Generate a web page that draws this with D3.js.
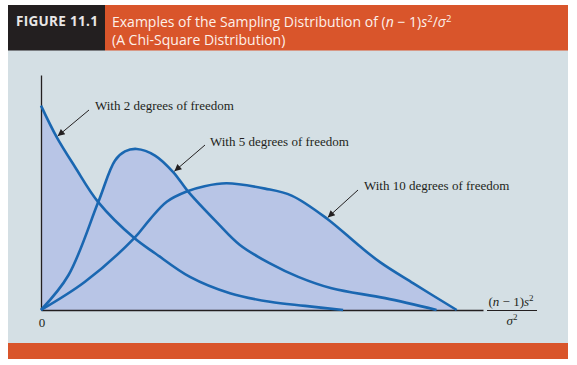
<!DOCTYPE html>
<html>
<head>
<meta charset="utf-8">
<script src="https://cdn.jsdelivr.net/npm/d3@7"></script>
<style>
  body { margin: 0; background: #ffffff; }
</style>
</head>
<body>
<div id="chart"></div>
<script>
// Values (x in chi-square units, y in density units)
var df2X = [0, 0.71, 1.54, 2.59, 4.22, 5.16, 6.74, 8.55, 10.36, 11.95, 13.67];
var df2Y = [0.5, 0.423, 0.35, 0.264, 0.176, 0.139, 0.081, 0.041, 0.020, 0.010, 0];

var df5X = [0, 1.24, 2.59, 3.35, 3.80, 4.33, 5.16, 5.99, 6.67, 7.95, 9.0, 10.36, 11.64, 13.15, 15.57, 17.9];
var df5Y = [0, 0.085, 0.264, 0.366, 0.388, 0.394, 0.378, 0.337, 0.289, 0.215, 0.159, 0.114, 0.081, 0.053, 0.029, 0];

var df10X = [0, 1.99, 4.22, 4.93, 5.69, 6.59, 7.40, 8.40, 10.14, 11.34, 12.93, 14.36, 15.34, 16.85, 18.81];
var df10Y = [0, 0.069, 0.176, 0.222, 0.265, 0.290, 0.303, 0.310, 0.297, 0.280, 0.224, 0.159, 0.117, 0.065, 0];

var seriesNames = ["With 2 degrees of freedom", "With 5 degrees of freedom", "With 10 degrees of freedom"];
var xTickLabels = ["0"];

const width = 577;
const height = 365;

const svg = d3
	.select("#chart")
	.append("svg")
	.attr("width", width)
	.attr("height", height);

// Panel + header + bottom strip
svg.append("rect").attr("x", 8).attr("y", 50).attr("width", 560).attr("height", 293).attr("fill", "#d4dfe4");
svg.append("rect").attr("x", 8).attr("y", 5).attr("width", 97).attr("height", 45.5).attr("fill", "#231f20");
svg.append("rect").attr("x", 105).attr("y", 5).attr("width", 463).attr("height", 45.5).attr("fill", "#d9552b");
svg.append("rect").attr("x", 8).attr("y", 343).attr("width", 560).attr("height", 16).attr("fill", "#d9552b");

svg.append("text")
	.attr("x", 16)
	.attr("y", 26)
	.attr("fill", "#e8e6e6")
	.style("font-family", "'Open Sans', sans-serif")
	.style("font-weight", "bold")
	.style("font-size", "13.5px")
	.style("letter-spacing", "0.3px")
	.text("FIGURE 11.1");

const title = svg.append("text")
	.attr("x", 112)
	.attr("y", 27)
	.attr("fill", "#fdf0ea")
	.style("font-family", "'Open Sans', sans-serif")
	.style("font-size", "14px");
title.append("tspan").text("Examples of the Sampling Distribution of (");
title.append("tspan").style("font-style", "italic").text("n");
title.append("tspan").text(" \u2212 1)");
title.append("tspan").style("font-style", "italic").text("s");
title.append("tspan").attr("dy", -5).style("font-size", "9.5px").text("2");
title.append("tspan").attr("dy", 5).text("/");
title.append("tspan").style("font-style", "italic").text("\u03c3");
title.append("tspan").attr("dy", -5).style("font-size", "9.5px").text("2");

svg.append("text")
	.attr("x", 112)
	.attr("y", 45)
	.attr("fill", "#fdf0ea")
	.style("font-family", "'Open Sans', sans-serif")
	.style("font-size", "14px")
	.text("(A Chi-Square Distribution)");

// Scales
const xScale = d3.scaleLinear().domain([0, 20]).range([41, 483]);
const yScale = d3.scaleLinear().domain([0, 0.575]).range([310, 75]);

const series = [
	d3.zip(df2X, df2Y),
	d3.zip(df5X, df5Y),
	d3.zip(df10X, df10Y)
];

const area = d3.area()
	.x(d => xScale(d[0]))
	.y0(yScale(0))
	.y1(d => yScale(d[1]))
	.curve(d3.curveCatmullRom.alpha(0.5));

const line = d3.line()
	.x(d => xScale(d[0]))
	.y(d => yScale(d[1]))
	.curve(d3.curveCatmullRom.alpha(0.5));

// Shaded areas first, so the union looks like one fill
svg.selectAll(".fill")
	.data(series)
	.enter()
	.append("path")
	.attr("class", "fill")
	.attr("d", area)
	.attr("fill", "#b8c5e6");

// Axes (no ticks)
svg.append("g")
	.attr("transform", `translate(0, ${yScale(0)})`)
	.call(d3.axisBottom(xScale).tickValues([]).tickSizeOuter(0))
	.select(".domain").attr("stroke", "#231f20").attr("stroke-width", 1.3);

svg.append("g")
	.attr("transform", `translate(${xScale(0)}, 0)`)
	.call(d3.axisLeft(yScale).tickValues([]).tickSizeOuter(0))
	.select(".domain").attr("stroke", "#231f20").attr("stroke-width", 1.3);

svg.selectAll(".curve")
	.data(series)
	.enter()
	.append("path")
	.attr("class", "curve")
	.attr("d", line)
	.attr("fill", "none")
	.attr("stroke", "#1a67b1")
	.attr("stroke-width", 2.6);

// tick label
svg.append("text")
	.attr("x", xScale(0) + 1)
	.attr("y", 327)
	.attr("text-anchor", "middle")
	.style("font-family", "'Liberation Serif', serif")
	.style("font-size", "13px")
	.attr("fill", "#231f20")
	.text(xTickLabels[0]);

// Axis label as a fraction
const serif = "'Liberation Serif', serif";
const num = svg.append("text")
	.attr("x", 511)
	.attr("y", 306)
	.attr("text-anchor", "middle")
	.attr("fill", "#231f20")
	.style("font-family", serif)
	.style("font-size", "13px");
num.append("tspan").text("(");
num.append("tspan").style("font-style", "italic").text("n");
num.append("tspan").text(" \u2212 1)");
num.append("tspan").style("font-style", "italic").text("s");
num.append("tspan").attr("dy", -5).style("font-size", "9px").text("2");

svg.append("line")
	.attr("x1", 487).attr("x2", 537)
	.attr("y1", 310.5).attr("y2", 310.5)
	.attr("stroke", "#231f20")
	.attr("stroke-width", 1);

const den = svg.append("text")
	.attr("x", 512)
	.attr("y", 325)
	.attr("text-anchor", "middle")
	.attr("fill", "#231f20")
	.style("font-family", serif)
	.style("font-size", "13px");
den.append("tspan").style("font-style", "italic").text("\u03c3");
den.append("tspan").attr("dy", -5).style("font-size", "9px").text("2");

// Arrow marker
svg.append("defs")
	.append("marker")
	.attr("id", "arrow")
	.attr("viewBox", "0 0 10 10")
	.attr("refX", 10)
	.attr("refY", 5)
	.attr("markerWidth", 9)
	.attr("markerHeight", 7)
	.attr("markerUnits", "userSpaceOnUse")
	.attr("orient", "auto")
	.append("path")
	.attr("d", "M0,0 L10,5 L0,10 Z")
	.attr("fill", "#231f20");

// Callouts: label position and the point on the curve the arrow hits
const callouts = [
	{ name: seriesNames[0], tx: 95, ty: 110, ax: 89, ay: 110, hit: [0.71, 0.423] },
	{ name: seriesNames[1], tx: 210, ty: 146, ax: 205, ay: 145, hit: [5.99, 0.337] },
	{ name: seriesNames[2], tx: 364, ty: 190, ax: 358, ay: 190, hit: [12.93, 0.224] }
];

svg.selectAll(".arrow")
	.data(callouts)
	.enter()
	.append("line")
	.attr("class", "arrow")
	.attr("x1", d => d.ax)
	.attr("y1", d => d.ay)
	.attr("x2", d => xScale(d.hit[0]) + 1)
	.attr("y2", d => yScale(d.hit[1]) - 1)
	.attr("stroke", "#231f20")
	.attr("stroke-width", 1)
	.attr("marker-end", "url(#arrow)");

svg.selectAll(".label")
	.data(callouts)
	.enter()
	.append("text")
	.attr("class", "label")
	.attr("x", d => d.tx)
	.attr("y", d => d.ty)
	.attr("fill", "#231f20")
	.style("font-family", serif)
	.style("font-size", "13px")
	.text(d => d.name);
</script>
</body>
</html>
